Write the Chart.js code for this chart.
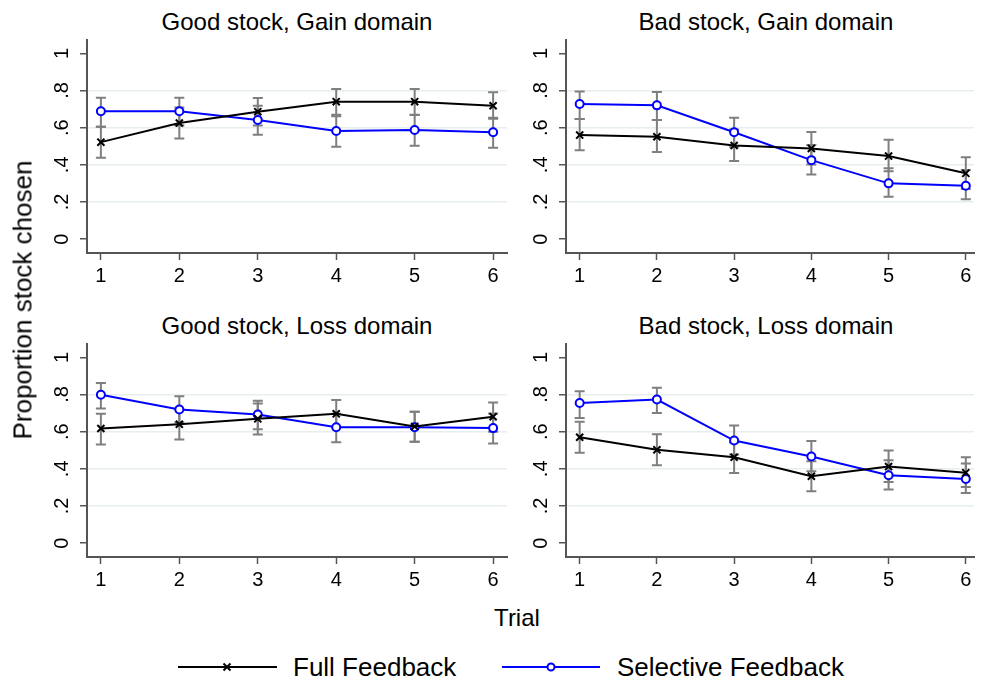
<!DOCTYPE html>
<html>
<head>
<meta charset="utf-8">
<script src="https://cdn.jsdelivr.net/npm/chart.js@4.4.1/dist/chart.umd.min.js"></script>
<style>
	body { margin: 0; background: #fff; width: 981px; height: 681px; position: relative; overflow: hidden;
		font-family: "Liberation Sans", Arial, sans-serif; color: #000; }
	canvas { position: absolute; }
	.ttl { position: absolute; font-size: 24px; line-height: 24px; white-space: nowrap; transform: translateX(-50%); }
	.ytitle { position: absolute; left: 23px; top: 300px; font-size: 26px; white-space: nowrap;
		transform: translate(-50%, -50%) rotate(-90deg); }
	.xtitle { position: absolute; left: 517px; top: 618px; font-size: 24px; transform: translate(-50%, -50%); }
	.leg { position: absolute; top: 652px; height: 30px; font-size: 26px; line-height: 30px; white-space: nowrap; }
	.leg svg { position: absolute; top: 0; }
</style>
</head>
<body>

<div class="ttl" style="left:297px; top:10px;">Good stock, Gain domain</div>
<div class="ttl" style="left:766px; top:10px;">Bad stock, Gain domain</div>
<div class="ttl" style="left:297px; top:314px;">Good stock, Loss domain</div>
<div class="ttl" style="left:766px; top:314px;">Bad stock, Loss domain</div>

<canvas id="goodGain" width="480" height="265" style="left:37px; top:30px;"></canvas>
<canvas id="badGain" width="465" height="265" style="left:516px; top:30px;"></canvas>
<canvas id="goodLoss" width="480" height="265" style="left:37px; top:334px;"></canvas>
<canvas id="badLoss" width="465" height="265" style="left:516px; top:334px;"></canvas>

<div class="ytitle">Proportion stock chosen</div>
<div class="xtitle">Trial</div>

<div class="leg" style="left:178px;">
	<svg width="100" height="30"><line x1="0" y1="15" x2="99" y2="15" stroke="#000" stroke-width="2"/>
		<path d="M45.5 11.5 L52.5 18.5 M52.5 11.5 L45.5 18.5" stroke="#000" stroke-width="2"/></svg>
	<span style="position:absolute; left:115px;">Full Feedback</span>
</div>
<div class="leg" style="left:502px;">
	<svg width="100" height="30"><line x1="0" y1="15" x2="98" y2="15" stroke="#0000ff" stroke-width="2"/>
		<circle cx="49" cy="15" r="3.5" fill="#fff" stroke="#0000ff" stroke-width="2"/></svg>
	<span style="position:absolute; left:115px;">Selective Feedback</span>
</div>

<script>
var trials = [1, 2, 3, 4, 5, 6];
var yTicks = [0, 0.2, 0.4, 0.6, 0.8, 1];
var yTickLabels = ["0", ".2", ".4", ".6", ".8", "1"];

// Good stock, Gain domain
var goodGainFull   = [0.522, 0.625, 0.686, 0.740, 0.740, 0.718];
var goodGainFullLo = [0.438, 0.542, 0.612, 0.670, 0.670, 0.648];
var goodGainFullHi = [0.605, 0.708, 0.759, 0.808, 0.808, 0.790];
var goodGainSel    = [0.688, 0.688, 0.641, 0.582, 0.587, 0.575];
var goodGainSelLo  = [0.605, 0.612, 0.562, 0.497, 0.503, 0.492];
var goodGainSelHi  = [0.761, 0.761, 0.718, 0.661, 0.668, 0.653];

// Bad stock, Gain domain
var badGainFull   = [0.560, 0.551, 0.504, 0.488, 0.447, 0.354];
var badGainFullLo = [0.478, 0.469, 0.420, 0.402, 0.365, 0.270];
var badGainFullHi = [0.646, 0.641, 0.590, 0.576, 0.535, 0.440];
var badGainSel    = [0.727, 0.720, 0.575, 0.425, 0.300, 0.287];
var badGainSelLo  = [0.646, 0.641, 0.497, 0.348, 0.228, 0.215];
var badGainSelHi  = [0.795, 0.792, 0.653, 0.506, 0.381, 0.372];

// Good stock, Loss domain
var goodLossFull   = [0.617, 0.640, 0.669, 0.696, 0.628, 0.680];
var goodLossFullLo = [0.531, 0.558, 0.585, 0.622, 0.545, 0.600];
var goodLossFullHi = [0.696, 0.720, 0.752, 0.770, 0.707, 0.757];
var goodLossSel    = [0.799, 0.719, 0.692, 0.624, 0.624, 0.619];
var goodLossSelLo  = [0.725, 0.649, 0.613, 0.543, 0.545, 0.536];
var goodLossSelHi  = [0.862, 0.790, 0.766, 0.696, 0.707, 0.698];

// Bad stock, Loss domain
var badLossFull   = [0.570, 0.502, 0.462, 0.360, 0.412, 0.379];
var badLossFullLo = [0.487, 0.419, 0.378, 0.279, 0.329, 0.302];
var badLossFullHi = [0.653, 0.586, 0.541, 0.441, 0.498, 0.462];
var badLossSel    = [0.754, 0.773, 0.552, 0.466, 0.365, 0.345];
var badLossSelLo  = [0.674, 0.700, 0.477, 0.387, 0.288, 0.270];
var badLossSelHi  = [0.818, 0.837, 0.633, 0.550, 0.446, 0.428];

Chart.defaults.font.family = '"Liberation Sans", Arial, sans-serif';
Chart.defaults.color = "#000";

// gray capped bars for the confidence intervals, drawn under the lines
var errorBars = {
	id : "errorBars",
	beforeDatasetsDraw : function(chart) {
		var ctx = chart.ctx, xs = chart.scales.x, ys = chart.scales.y;
		ctx.save();
		ctx.strokeStyle = "#7f7f7f";
		ctx.lineWidth = 2;
		chart.data.datasets.forEach(function(ds) {
			ds.data.forEach(function(p, i) {
				var x = xs.getPixelForValue(p.x);
				var lo = ys.getPixelForValue(ds.errLo[i]);
				var hi = ys.getPixelForValue(ds.errHi[i]);
				ctx.beginPath();
				ctx.moveTo(x, lo); ctx.lineTo(x, hi);
				ctx.moveTo(x - 5, lo); ctx.lineTo(x + 5, lo);
				ctx.moveTo(x - 5, hi); ctx.lineTo(x + 5, hi);
				ctx.stroke();
			});
		});
		ctx.restore();
	}
};

// y labels are turned on their side
var sideLabels = {
	id : "sideLabels",
	afterDraw : function(chart) {
		var ctx = chart.ctx, ys = chart.scales.y;
		var x = chart.chartArea.left - 25;
		ctx.save();
		ctx.font = '20px "Liberation Sans", Arial, sans-serif';
		ctx.fillStyle = "#000";
		ctx.textAlign = "center";
		ctx.textBaseline = "middle";
		yTicks.forEach(function(v, i) {
			ctx.save();
			ctx.translate(x, ys.getPixelForValue(v));
			ctx.rotate(-Math.PI / 2);
			ctx.fillText(yTickLabels[i], 0, 0);
			ctx.restore();
		});
		ctx.restore();
	}
};

function points(vals) {
	return trials.map(function(t, i) { return { x : t, y : vals[i] }; });
}

function makePanel(id, full, fullLo, fullHi, sel, selLo, selHi, xMax, padRight) {
	var ctx = document.getElementById(id);

	var data = {
		datasets : [
			{
				label : "Full Feedback",
				data : points(full),
				errLo : fullLo,
				errHi : fullHi,
				borderColor : "#000",
				backgroundColor : "#000",
				borderWidth : 2,
				pointStyle : "crossRot",
				pointRadius : 5,
				pointBorderWidth : 2,
				tension : 0
			},
			{
				label : "Selective Feedback",
				data : points(sel),
				errLo : selLo,
				errHi : selHi,
				borderColor : "#0000ff",
				backgroundColor : "#fff",
				borderWidth : 2,
				pointStyle : "circle",
				pointRadius : 4,
				pointBorderWidth : 2,
				tension : 0
			}
		]
	};

	var options = {
		responsive : false,
		animation : false,
		devicePixelRatio : 1,
		layout : { padding : { top : 10, right : padRight, left : 0, bottom : 0 } },
		plugins : { legend : { display : false }, tooltip : { enabled : false } },
		scales : {
			x : {
				type : "linear",
				min : 0.823,
				max : xMax,
				afterBuildTicks : function(s) { s.ticks = trials.map(function(t) { return { value : t }; }); },
				afterFit : function(s) { s.height = 42; },
				ticks : { font : { size : 20 }, color : "#000", padding : 4, maxRotation : 0,
					callback : function(v) { return String(v); } },
				grid : { drawOnChartArea : false, drawTicks : true, tickLength : 7, tickColor : "#555", tickWidth : 1.5 },
				border : { color : "#555", width : 2 }
			},
			y : {
				min : -0.075,
				max : 1.072,
				afterBuildTicks : function(s) { s.ticks = yTicks.map(function(v) { return { value : v }; }); },
				afterFit : function(s) { s.width = 50; },
				ticks : { display : false },
				grid : {
					color : function(c) {
						return (c.tick && (c.tick.value === 0 || c.tick.value === 1)) ? "rgba(0,0,0,0)" : "#e6eef0";
					},
					lineWidth : 1.5,
					drawTicks : true,
					tickLength : 7,
					tickColor : "#555",
					tickWidth : 1.5
				},
				border : { color : "#555", width : 2 }
			}
		}
	};

	return new Chart(ctx, {
		type : "line",
		data : data,
		options : options,
		plugins : [errorBars, sideLabels]
	});
}

makePanel("goodGain", goodGainFull, goodGainFullLo, goodGainFullHi, goodGainSel, goodGainSelLo, goodGainSelHi, 6.177, 10);
makePanel("badGain", badGainFull, badGainFullLo, badGainFullHi, badGainSel, badGainSelLo, badGainSelHi, 6.106, 0);
makePanel("goodLoss", goodLossFull, goodLossFullLo, goodLossFullHi, goodLossSel, goodLossSelLo, goodLossSelHi, 6.177, 10);
makePanel("badLoss", badLossFull, badLossFullLo, badLossFullHi, badLossSel, badLossSelLo, badLossSelHi, 6.106, 0);
</script>
</body>
</html>
